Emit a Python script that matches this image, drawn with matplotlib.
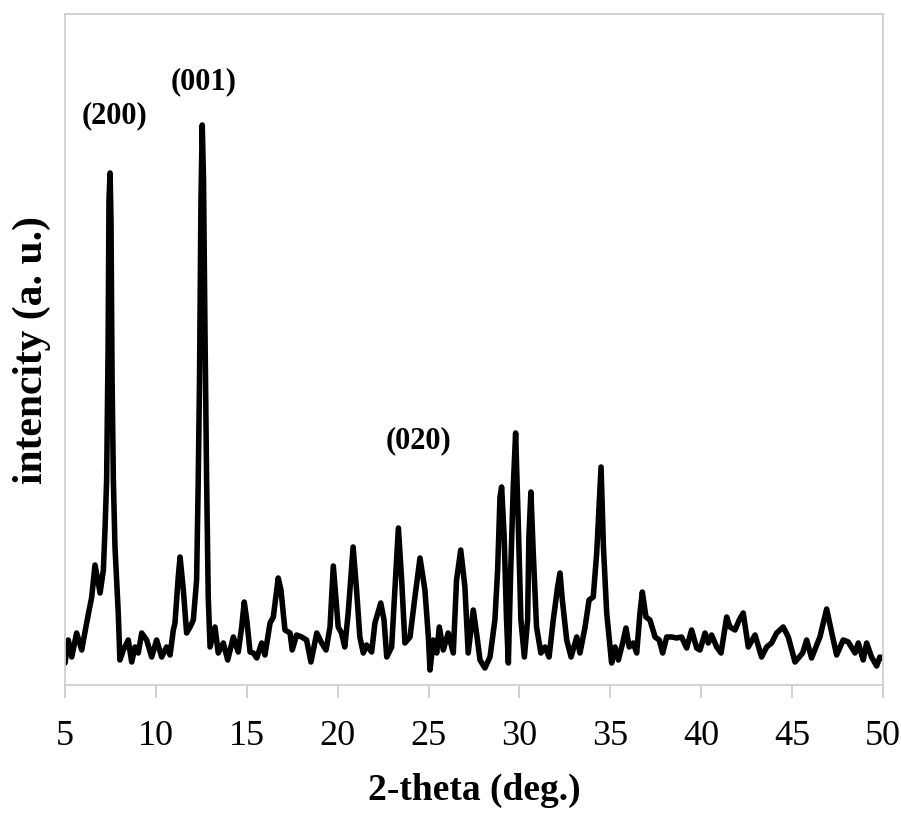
import matplotlib
matplotlib.use("Agg")
import matplotlib.pyplot as plt

two_theta = [
    5.00, 5.18, 5.37, 5.64, 5.92, 6.19, 6.47, 6.65, 6.93, 7.11, 7.20, 7.29, 7.37, 7.42, 7.48,
    7.53, 7.59, 7.66, 7.75, 7.93, 8.02, 8.21, 8.48, 8.67, 8.85, 9.03, 9.22, 9.49, 9.77, 10.04,
    10.32, 10.59, 10.78, 10.96, 11.05, 11.23, 11.33, 11.51, 11.69, 11.88, 12.06, 12.24, 12.33,
    12.40, 12.48, 12.55, 12.62, 12.70, 12.79, 12.88, 12.98, 13.25, 13.43, 13.71, 13.95, 14.26,
    14.53, 14.72, 14.86, 15.00, 15.18, 15.36, 15.55, 15.82, 16.00, 16.28, 16.46, 16.73, 16.88,
    17.10, 17.38, 17.50, 17.74, 18.02, 18.29, 18.53, 18.85, 19.12, 19.36, 19.58, 19.76, 19.90,
    20.03, 20.21, 20.39, 20.58, 20.85, 21.04, 21.22, 21.41, 21.59, 21.87, 22.05, 22.37, 22.55,
    22.70, 22.97, 23.15, 23.34, 23.52, 23.70, 23.98, 24.25, 24.53, 24.80, 24.99, 25.08, 25.26,
    25.45, 25.59, 25.81, 26.08, 26.36, 26.54, 26.77, 27.00, 27.18, 27.46, 27.64, 27.83, 28.10,
    28.38, 28.65, 28.80, 28.93, 29.02, 29.16, 29.29, 29.39, 29.52, 29.66, 29.79, 29.93, 30.08,
    30.27, 30.45, 30.52, 30.63, 30.76, 30.94, 31.18, 31.41, 31.63, 31.86, 32.10, 32.23, 32.36,
    32.60, 32.84, 33.15, 33.33, 33.61, 33.83, 34.06, 34.25, 34.49, 34.62, 34.80, 35.07, 35.26,
    35.44, 35.68, 35.86, 36.04, 36.26, 36.45, 36.63, 36.76, 36.96, 37.18, 37.46, 37.69, 37.88,
    38.10, 38.37, 38.65, 38.92, 39.20, 39.47, 39.75, 39.93, 40.21, 40.39, 40.57, 40.85, 41.09,
    41.40, 41.58, 41.86, 42.09, 42.31, 42.59, 42.96, 43.32, 43.60, 43.87, 44.15, 44.51, 44.79,
    45.16, 45.58, 45.80, 46.07, 46.53, 46.90, 47.17, 47.45, 47.81, 48.09, 48.46, 48.64, 48.91,
    49.10, 49.37, 49.65, 49.83, 50.00,
]

intensity = [
    22, 45, 28, 52, 35, 62, 88, 120, 92, 115, 155, 205, 335, 485, 512,
    465, 305, 205, 138, 72, 25, 35, 45, 23, 38, 32, 52, 45, 28, 45,
    28, 38, 30, 55, 62, 108, 128, 95, 52, 58, 65, 105, 205,
    305, 485, 560, 505, 355, 205, 88, 38, 58, 32, 42, 25, 48,
    33, 58, 83, 65, 33, 32, 27, 42, 30, 62, 68, 107, 95,
    55, 52, 35, 50, 48, 45, 23, 52, 42, 35, 58, 119, 88,
    58, 52, 38, 72, 138, 95, 48, 32, 40, 33, 62, 82, 65,
    28, 38, 95, 157, 105, 42, 48, 88, 127, 95, 48, 15, 45,
    32, 58, 35, 52, 32, 105, 135, 98, 32, 75, 52, 25, 17,
    28, 65, 115, 188, 198, 148, 65, 22, 115, 198, 252, 165, 65,
    28, 65, 148, 193, 132, 58, 32, 38, 28, 65, 98, 112, 85,
    45, 28, 48, 32, 58, 85, 88, 132, 218, 138, 72, 22, 38,
    25, 42, 57, 38, 42, 32, 72, 93, 68, 65, 48, 45, 32,
    48, 48, 47, 48, 37, 55, 37, 35, 52, 42, 50, 38, 32,
    68, 58, 55, 65, 72, 38, 50, 28, 38, 42, 52, 58, 48,
    23, 32, 45, 27, 48, 76, 53, 30, 45, 43, 32, 42, 25,
    42, 28, 19, 28, 27,
]

x_ticks = [5, 10, 15, 20, 25, 30, 35, 40, 45, 50]

peak_labels = ["(200)", "(001)", "(020)"]
peak_label_x = [7.75, 12.62, 24.47]
peak_label_y = [569, 603, 244]

W, H = 901, 813
fig = plt.figure(figsize=(W / 100, H / 100), dpi=100)
ax = fig.add_axes([65 / W, (H - 685) / H, 818 / W, 671 / H])

ax.plot(two_theta, intensity, color="black", lw=4.0, solid_joinstyle="round",
        solid_capstyle="round")

ax.set_xlim(5, 50)
ax.set_ylim(0, 671)
ax.set_xticks(x_ticks)
ax.set_xticklabels([str(t) for t in x_ticks], fontfamily="Liberation Serif", fontsize=26)
ax.set_yticks([])
ax.tick_params(axis="x", direction="out", length=9.5, width=1.2, color="#c8c8c8", pad=16)

for s in ax.spines.values():
    s.set_color("#cfcfcf")
    s.set_linewidth(1.3)

ax.set_xlabel("2-theta (deg.)", fontfamily="Liberation Serif", fontweight="bold",
              fontsize=27, labelpad=14)
ax.set_ylabel("intencity (a. u.)", fontfamily="Liberation Serif", fontweight="bold",
              fontsize=30, labelpad=10)

for lab, lx, ly in zip(peak_labels, peak_label_x, peak_label_y):
    ax.text(lx, ly, lab, ha="center", va="center", fontfamily="Liberation Serif",
            fontweight="bold", fontsize=22)

fig.savefig("out.png", dpi=100, facecolor="white")
